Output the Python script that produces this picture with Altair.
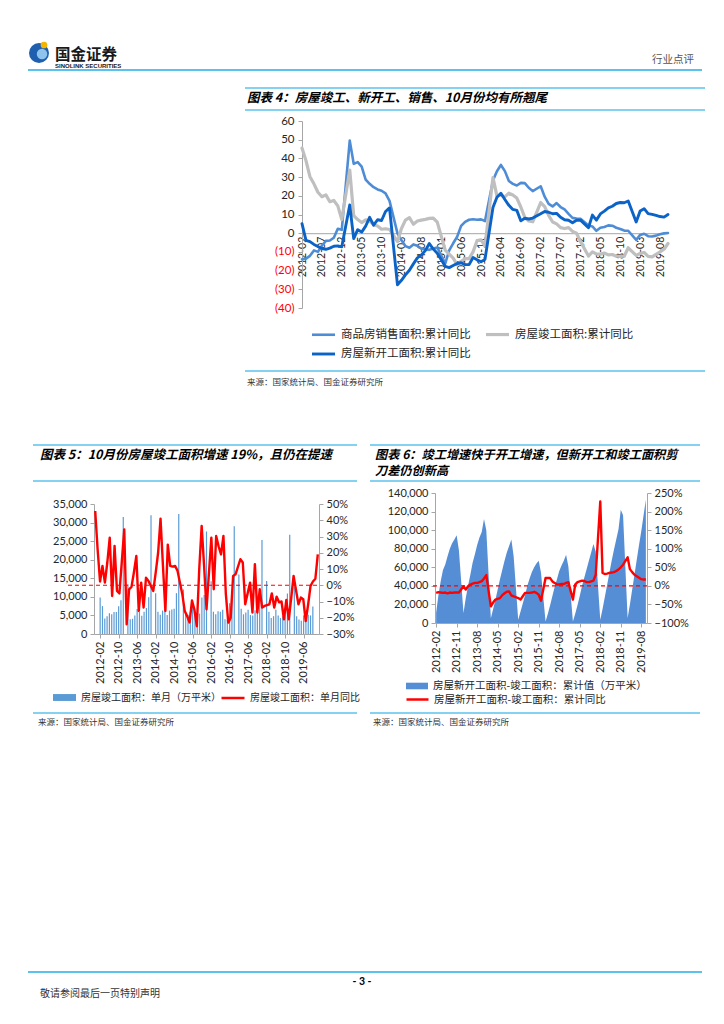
import json
import altair as alt
import pandas as pd

CJK = "Noto Sans CJK SC"
NUM = "Lato"
RULE_BLUE = "#5BC2EE"
AXIS_GREY = "#A6A6A6"
W, H = 708, 1000  # whole page view (page coords minus the 8px margin)

# ---------------- categories ----------------
months = [f"{y}-{m:02d}" for y in range(2012, 2020) for m in range(1, 13)
          if not (y == 2012 and m < 2) and not (y == 2019 and m > 10)]

# ---------------- chart 4 : cumulative YoY (%) ----------------
S_SALES = "商品房销售面积:累计同比"
S_DONE = "房屋竣工面积:累计同比"
S_START = "房屋新开工面积:累计同比"
sales_yoy = [
    -14.0, -13.6, -12.1, -9.2, -10.0, -6.7, -4.1, -3.9, -2.4, 2.4, 1.8,
    None, 49.5, 37.1, 38.0, 35.6, 28.7, 26.4, 24.6, 23.4, 22.7, 21.3, 17.3,
    None, -0.1, -3.8, -6.9, -7.8, -6.0, -6.7, -8.3, -8.6, -8.9, -8.2, -7.6,
    None, -16.3, -9.2, -5.4, -1.9, 3.9, 6.1, 7.2, 7.5, 7.2, 7.4, 6.5,
    None, 28.2, 33.1, 36.5, 33.2, 27.9, 26.4, 25.5, 26.9, 26.8, 24.3, 22.5,
    None, 25.1, 19.5, 15.7, 14.3, 16.1, 14.0, 12.7, 10.3, 8.2, 7.9, 7.7,
    None, 4.1, 3.6, 1.3, 2.9, 3.3, 4.2, 4.0, 2.9, 2.2, 1.4, 1.3,
    None, -3.6, -0.9, -0.3, -1.6, -1.8, -1.3, -0.6, -0.1, 0.1,
]
completed_yoy = [
    45.6, 38.8, 30.2, 26.4, 21.9, 19.5, 20.5, 16.8, 17.5, 14.6, 7.3,
    None, 33.8, 9.4, 7.3, 5.7, 7.1, 6.6, 4.5, 3.8, 2.1, 2.4, 2.0,
    None, -4.5, 2.5, 7.0, 8.3, 4.8, 6.5, 7.0, 7.4, 7.9, 8.1, 5.9,
    None, -9.1, -11.2, -13.3, -16.9, -15.0, -13.6, -13.6, -10.0, -4.0, -3.5, -6.9,
    None, 29.7, 20.0, 20.3, 19.4, 21.4, 20.4, 18.8, 14.0, 8.5, 6.5, 6.1,
    None, 16.4, 14.2, 9.5, 6.0, 5.0, 3.0, 2.5, 3.0, 1.0, 0.0, -4.4,
    None, -12.2, -10.0, -11.1, -11.2, -10.6, -11.6, -11.4, -12.3, -12.4, -12.3, -7.8,
    None, -11.9, -10.8, -10.3, -12.4, -12.7, -11.3, -10.0, -8.6, -5.5,
]
started_yoy = [
    5.1, -3.8, -4.5, -6.0, -7.1, -8.2, -8.6, -8.0, -7.0, -6.8, -7.3,
    None, 15.1, -2.9, 1.9, 0.6, 3.8, 8.5, 4.3, 7.2, 6.8, 11.6, 13.5,
    None, -27.6, -25.2, -22.3, -19.8, -16.4, -13.2, -11.7, -9.3, -5.5, -8.5, -10.7,
    None, -17.7, -18.4, -17.3, -16.2, -15.8, -16.8, -16.8, -13.0, -14.2, -15.3, -14.0,
    None, 13.7, 19.2, 21.4, 18.0, 14.9, 12.7, 12.2, 6.6, 8.0, 7.6, 8.1,
    None, 10.4, 11.6, 11.2, 10.4, 10.6, 8.5, 7.2, 6.9, 5.6, 6.9, 7.0,
    None, 2.9, 9.7, 7.0, 10.3, 11.8, 13.5, 14.4, 15.9, 16.4, 16.3, 17.2,
    None, 6.0, 11.9, 13.1, 10.5, 10.1, 9.5, 8.9, 8.6, 10.0,
]

# ---------------- chart 5 : monthly completions ----------------
L5a = "房屋竣工面积：单月（万平米）"
L5b = "房屋竣工面积：单月同比"
completed_month = [
    9800, 7500, 4200, 4800, 5600, 5300, 5900, 5900, 7500, 9100, 31500,
    None, 13400, 4000, 4100, 5000, 6700, 6000, 4900, 6000, 7000, 9900, 32000,
    None, 11000, 6000, 5200, 6300, 6700, 5100, 6300, 6600, 6800, 11000, 32300,
    None, 12000, 5500, 5200, 5900, 7300, 5200, 6000, 5500, 9800, 10500, 27600,
    None, 14200, 6000, 5300, 6100, 6000, 6500, 4000, 3800, 8300, 10000, 29000,
    None, 16000, 6800, 5300, 5800, 6500, 5100, 5000, 6400, 6000, 9800, 25300,
    None, 14300, 6000, 4300, 4800, 6500, 5000, 4300, 4800, 6000, 10900, 26700,
    None, 12600, 4800, 3900, 3600, 5000, 4800, 5200, 5000, 7400,
]
completed_month_yoy = [
    45.7, 22, 2.3, 11.9, 1.6, 14, 29.3, -6.6, 24.2, -3.5, -5,
    None, 34.4, -24, -2.5, -1, 8, 18, -15.8, 1.6, -13.7, 4.7, 2.7,
    None, -3.5, 7.8, 20, 41, 12, -15.8, 25, 11.9, 11.5, 11.9, 9,
    None, -5.5, -15.8, -19, -22.9, -9.4, -15, -25.2, 10, 36.5, 12, -14.8,
    None, 29.3, -2.5, 30.3, 24, 19, 30.3, -5.5, -23, -20, 5.7, 6.7,
    None, 16, 14, -11.7, -5, 1.6, -16.8, 13, -16.8, -2.5, -13.7, -12.7,
    None, -11.7, -5, -13.7, -7, -10.5, -10, -21, -9, -21, -8, 5.7,
    None, -11.7, -7.6, -8.6, -22, -12, -0.4, 2.3, 4, 19,
]

# ---------------- chart 6 : starts minus completions ----------------
L6a = "房屋新开工面积-竣工面积：累计值（万平米）"
L6b = "房屋新开工面积-竣工面积：累计同比"
gap_cum = [
    11000, 30000, 45000, 57000, 63000, 72000, 80000, 86000, 90000, 94500, 78000,
    None, 10800, 27000, 40000, 52000, 65000, 74000, 84000, 92000, 98000, 112000, 100000,
    None, 5000, 15000, 25000, 36000, 47000, 57000, 67000, 76000, 83000, 90000, 72000,
    None, 3500, 12000, 21000, 30000, 40000, 48000, 55000, 60000, 64000, 67000, 54000,
    None, 1700, 10000, 19000, 29000, 39000, 47000, 56000, 62000, 67000, 73500, 61000,
    None, 1500, 10000, 19000, 29000, 40000, 49000, 58000, 67000, 76000, 85000, 77000,
    None, 3600, 15000, 28000, 41000, 54000, 67000, 79000, 90000, 101000, 122000, 116000,
    None, 5300, 20000, 36000, 52000, 68000, 84000, 99000, 116000, 133000,
]
gap_yoy = [
    -19, -17, -18, -19, -18, -20, -18, -19, -18, -18, -18,
    None, -1, -10, -1, 3.5, 6, 8, 8, 10, 12.5, 20, 29,
    None, -55, -45, -37, -35, -33, -25, -20, -16, -15, -26, -28,
    None, -33, -37, -28, -19, -19, -19, -18, -16, -19, -24, -40,
    None, 21, 21, 21, 12, 8, 3.5, 4, 5, 5, 8, 10,
    None, -37, 3.5, 10, 12, 14, 13, 10, 10, 12, 14, 30,
    None, 227, 35, 32, 33, 35, 36, 37, 40, 44, 50, 57,
    None, 77, 45, 37, 30, 26, 22, 18, 17, 17,
]

for arr in (sales_yoy, completed_yoy, started_yoy, completed_month,
            completed_month_yoy, gap_cum, gap_yoy):
    assert len(arr) == len(months) == 93

T4 = "图表 4：房屋竣工、新开工、销售、10月份均有所翘尾"
T5 = "图表 5：10月份房屋竣工面积增速 19%，且仍在提速"
T6a = "图表 6：竣工增速快于开工增速，但新开工和竣工面积剪"
T6b = "刀差仍创新高"
SRC = "来源：国家统计局、国金证券研究所"


def frame(vals, label, scale=1.0):
    return pd.DataFrame([{"i": i, "v": v * scale, "k": label}
                         for i, v in enumerate(vals) if v is not None])


dummy = pd.DataFrame({"d": [0]})
LABEL_EXPR = json.dumps(months) + "[datum.value]"
RECT = "M-1,-0.3L1,-0.3L1,0.3L-1,0.3Z"


def text_mark(s, x, y, size=11, weight="normal", style="normal", color="#000000",
              align="left", font=CJK):
    return alt.Chart(dummy).mark_text(
        text=s, align=align, baseline="alphabetic", fontSize=size, fontWeight=weight,
        fontStyle=style, color=color, font=font
    ).encode(x=alt.value(x), y=alt.value(y))


def hline(x1, x2, y, color=RULE_BLUE, w=1.5):
    return alt.Chart(dummy).mark_rule(color=color, strokeWidth=w).encode(
        x=alt.value(x1), x2=alt.value(x2), y=alt.value(y))


def dot(x, y, size, color):
    return alt.Chart(dummy).mark_point(shape="circle", filled=True, size=size,
                                       color=color, opacity=1).encode(
        x=alt.value(x), y=alt.value(y))


def xscale(dom, x0, x1):
    return alt.Scale(domain=dom, range=[x0, x1], nice=False, zero=False)


def yscale(dom, y_bottom, y_top):
    return alt.Scale(domain=dom, range=[y_bottom, y_top], nice=False, zero=False)


def x_axis(step, y_at, ticks=True, size=10.5):
    return alt.Axis(values=list(range(0, 93, step)), labelExpr=LABEL_EXPR, labelAngle=270,
                    orient="bottom", offset=y_at - H,
                    ticks=ticks, tickSize=4, tickColor=AXIS_GREY, domainColor=AXIS_GREY,
                    labelFont=NUM, labelFontSize=size, labelColor="#262626",
                    labelPadding=3, grid=False, title=None, labelOverlap=False,
                    labelFlush=False, labelBound=False)


def y_axis(values, orient, x_at, fmt=None, size=11, **extra):
    off = -x_at if orient == "left" else x_at - W
    kw = dict(values=values, orient=orient, offset=off, domainColor=AXIS_GREY,
              tickColor=AXIS_GREY, tickSize=4, labelFont=NUM, labelFontSize=size,
              labelColor="#262626", labelPadding=3, grid=False, title=None)
    if fmt:
        kw["format"] = fmt
    kw.update(extra)
    return alt.Axis(**kw)


def legend(x, y, symbol, size, fs, stroke_w=None, **extra):
    kw = dict(orient="none", legendX=x, legendY=y, symbolType=symbol, symbolSize=size,
              labelFont=CJK, labelFontSize=fs, labelColor="#262626", labelLimit=400,
              labelOffset=4, title=None)
    if stroke_w:
        kw["symbolStrokeWidth"] = stroke_w
    kw.update(extra)
    return alt.Legend(**kw)


# ---------------- page decorations (pixel positions) ----------------
decor = [
    dot(31, 45, 400, "#1E5FB0"),
    dot(34, 46, 110, "#8EC3EE"),
    dot(36, 37, 45, "#F5B400"),
    text_mark("国金证券", 47, 52, size=15.5, weight="bold", color="#1A1A1A"),
    text_mark("SINOLINK SECURITIES", 47, 60, size=6, weight="bold", font="Liberation Sans",
              color="#1A1A1A"),
    text_mark("行业点评", 686, 55, size=10.5, color="#555555", align="right"),
    hline(20, 694, 62, w=2.2),
    hline(237, 697, 80),
    text_mark(T4, 239, 94, size=12.5, weight="bold", style="italic"),
    hline(237, 697, 102),
    hline(237, 697, 363),
    text_mark(SRC, 239, 377, size=8.5, color="#333333"),
    hline(25, 349, 437),
    text_mark(T5, 32, 451, size=12.5, weight="bold", style="italic"),
    hline(25, 349, 473),
    hline(25, 349, 705),
    text_mark(SRC, 30, 717, size=8.5, color="#333333"),
    hline(362, 692, 437),
    text_mark(T6a, 367, 451, size=12.2, weight="bold", style="italic"),
    text_mark(T6b, 367, 467, size=12.2, weight="bold", style="italic"),
    hline(362, 692, 473),
    hline(362, 692, 705),
    text_mark(SRC, 365, 717, size=8.5, color="#333333"),
    hline(20, 694, 964, w=2.2),
    text_mark("- 3 -", 354, 977, size=10.5, weight="bold", align="center", font=NUM),
    text_mark("敬请参阅最后一页特别声明", 32, 989, size=10, color="#333333"),
]

# ---------------- chart 4 (plot: x 294..660, y 113..300) ----------------
S4 = [S_SALES, S_START, S_DONE]  # legend fills column-major
Y4 = yscale([-40, 60], 300, 113)
zero4 = 300 - 40 / 100 * 187
df4 = pd.concat([frame(sales_yoy, S_SALES), frame(completed_yoy, S_DONE),
                 frame(started_yoy, S_START)], ignore_index=True)
c4 = alt.Chart(df4).mark_line(strokeJoin="round", strokeCap="round").encode(
    x=alt.X("i:Q", scale=xscale([0, 92], 294, 660), axis=x_axis(5, zero4, ticks=False)),
    y=alt.Y("v:Q", scale=Y4,
            axis=y_axis(list(range(-40, 61, 10)), "left", 294, size=11.5, labelPadding=4,
                        labelExpr="datum.value < 0 ? '(' + abs(datum.value) + ')' : datum.label",
                        labelColor={"condition": {"test": "datum.value < 0", "value": "#FF0000"},
                                    "value": "#262626"})),
    color=alt.Color("k:N", scale=alt.Scale(domain=S4, range=["#4F8CD6", "#0B63C8", "#BFBFBF"]),
                    legend=legend(302, 313, "stroke", 529, 11.5, 3.5, columns=2,
                                  columnPadding=8, rowPadding=-1)),
    strokeWidth=alt.StrokeWidth("k:N", scale=alt.Scale(domain=S4, range=[2.6, 3.2, 2.6]),
                                legend=None),
)

# ---------------- chart 5 (plot: x 86..311, y 496..626) ----------------
X5 = xscale([-0.5, 92.5], 86, 311)
Y5L = yscale([0, 35000], 626, 496)
Y5R = yscale([-0.3, 0.5], 626, 496)
bars5 = alt.Chart(frame(completed_month, L5a)).mark_bar(size=1.2).encode(
    x=alt.X("i:Q", scale=X5, axis=x_axis(8, 626, size=11)),
    y=alt.Y("v:Q", scale=Y5L, axis=y_axis(list(range(0, 35001, 5000)), "left", 86, fmt=",.0f")),
    color=alt.Color("k:N", scale=alt.Scale(domain=[L5a], range=["#5B9BD5"]),
                    legend=legend(44, 677, RECT, 529, 10)),
)
rule5 = alt.Chart(dummy).mark_rule(color="#FF0000", strokeDash=[4, 3], strokeWidth=1.2).encode(
    y=alt.YDatum(0, scale=Y5R, axis=None), x=alt.value(60), x2=alt.value(311))
line5 = alt.Chart(frame(completed_month_yoy, L5b, 0.01)).mark_line(
    strokeWidth=2.4, strokeJoin="round").encode(
    x=alt.X("i:Q", scale=X5, axis=None),
    y=alt.Y("v:Q", scale=Y5R,
            axis=y_axis([-0.3, -0.2, -0.1, 0, 0.1, 0.2, 0.3, 0.4, 0.5], "right", 311,
                        fmt=".0%")),
    stroke=alt.Stroke("k:N", scale=alt.Scale(domain=[L5b], range=["#FF0000"]),
                      legend=legend(212, 677, "stroke", 529, 10, 2.5)),
)

# ---------------- chart 6 (plot: x 427..639, y 485..615) ----------------
X6 = xscale([-0.5, 92.5], 427, 639)
Y6L = yscale([0, 140000], 615, 485)
Y6R = yscale([-1, 2.5], 615, 485)
area6 = alt.Chart(frame(gap_cum, L6a)).mark_area(opacity=1).encode(
    x=alt.X("i:Q", scale=X6, axis=x_axis(9, 615, size=11)),
    y=alt.Y("v:Q", scale=Y6L,
            axis=y_axis(list(range(0, 140001, 20000)), "left", 427, fmt=",.0f")),
    color=alt.Color("k:N", scale=alt.Scale(domain=[L6a], range=["#558ED5"]),
                    legend=legend(397, 666, RECT, 484, 10.5)),
)
rule6 = alt.Chart(dummy).mark_rule(color="#FF0000", strokeDash=[4, 3], strokeWidth=1.2).encode(
    y=alt.YDatum(0, scale=Y6R, axis=None), x=alt.value(425), x2=alt.value(639))
line6 = alt.Chart(frame(gap_yoy, L6b, 0.01)).mark_line(strokeWidth=2.4, strokeJoin="round").encode(
    x=alt.X("i:Q", scale=X6, axis=None),
    y=alt.Y("v:Q", scale=Y6R,
            axis=y_axis([-1, -0.5, 0, 0.5, 1, 1.5, 2, 2.5], "right", 639, fmt=".0%")),
    stroke=alt.Stroke("k:N", scale=alt.Scale(domain=[L6b], range=["#FF0000"]),
                      legend=legend(397, 679, "stroke", 484, 10.5, 2.5)),
)

chart = alt.layer(
    *decor, c4, bars5, rule5, line5, area6, rule6, line6
).resolve_scale(
    x="independent", y="independent", color="independent", stroke="independent",
    strokeWidth="independent"
).properties(
    width=W, height=H, padding=0, background="white"
).configure_view(strokeWidth=0)

chart.save("out.html", embed_options={"renderer": "svg", "actions": False})
